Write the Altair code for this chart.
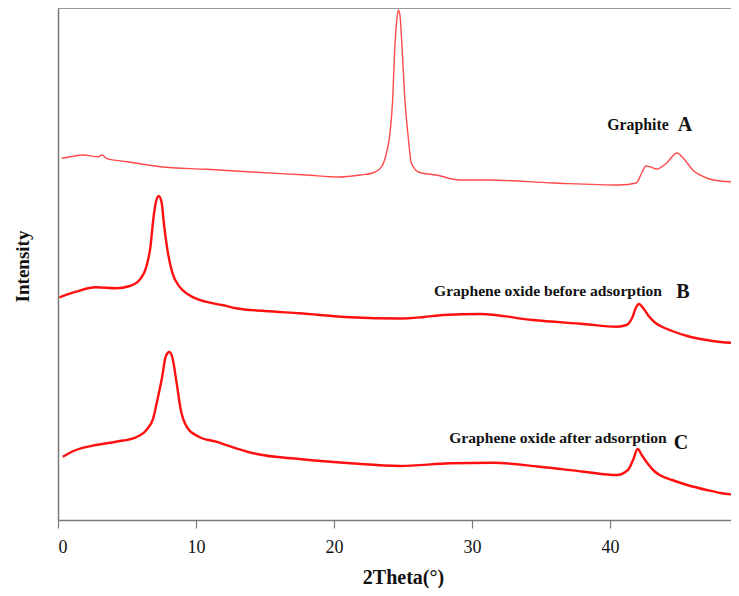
import altair as alt
import pandas as pd

# --- data (2Theta in degrees, intensity in arbitrary units) ---
A_x = [0.27, 1.0, 1.8, 2.9, 3.2, 3.5, 5.0, 7.4, 10.8, 14.4, 18.0, 20.4, 21.9, 22.8, 23.45, 23.8,
       24.06, 24.25, 24.4, 24.55, 24.66, 24.78, 24.9, 25.14, 25.4, 25.6, 26.2, 27.4, 29.1, 31.1,
       35.9, 40.7, 41.9, 42.3, 42.6, 42.9, 43.4, 44.1, 44.85, 45.3, 46.0, 47.0, 48.0, 49.3]
A_y = [361.7, 363.5, 365, 363.3, 365, 361.7, 358.3, 353.3, 350.7, 347.7, 345, 343, 345, 347, 353.3, 367,
       387, 420, 470, 500, 510, 505, 480, 420, 380, 357, 347.5, 345, 340, 340,
       337, 335, 337, 347, 354, 353.3, 351, 357, 367, 362, 350, 342, 339, 338]

B_x = [0.1, 1.3, 2.75, 4.2, 5.2, 5.9, 6.4, 6.7, 6.9, 7.1, 7.3, 7.5, 7.7, 7.95, 8.3, 8.8, 9.5,
       10.7, 11.9, 12.9, 15.0, 17.5, 21.2, 24.8, 26.5, 27.9, 30.6, 34.4, 38.1, 40.5, 41.2, 41.6,
       41.9, 42.1, 42.4, 42.8, 43.3, 43.8, 44.5, 45.6, 47.0, 48.0, 49.3]
B_y = [222.7, 228.3, 232.7, 231.7, 234, 240, 253.3, 273.3, 300, 318.3, 324, 318.3, 293.3, 268.3, 246.7, 233.3, 225,
       218.3, 215, 211.7, 209, 206.7, 202.7, 201.5, 203, 205, 206, 200, 196, 193.3, 195, 202,
       213, 216, 212, 204, 197, 193, 189, 184, 180, 178, 177]

C_x = [0.34, 1.3, 2.75, 4.2, 5.65, 6.4, 6.9, 7.2, 7.55, 7.8, 8.07, 8.3, 8.6, 8.9, 9.4, 10.2,
       11.45, 12.9, 14.4, 17.5, 21.2, 24.8, 28.4, 31.5, 34.9, 38.1, 40.5, 41.3, 41.7, 42.0, 42.3,
       42.7, 43.2, 43.6, 44.5, 45.6, 47.0, 48.0, 49.3]
C_y = [63.3, 70, 75, 78.3, 82.7, 90, 101.7, 120, 143.3, 163.3, 168, 161.7, 136.7, 110, 91.7, 83.3,
       78.3, 71.7, 66, 61, 56.7, 54, 56.7, 57.3, 53.3, 48.3, 45, 50, 61, 71, 65,
       57, 49, 45, 40, 35, 30, 27, 25]

x_ticks = [0, 10, 20, 30, 40]
labels = ["Graphite", "Graphene oxide before adsorption", "Graphene oxide after adsorption"]
letters = ["A", "B", "C"]

df = pd.concat([
    pd.DataFrame({"theta": A_x, "intensity": A_y, "series": "A"}),
    pd.DataFrame({"theta": B_x, "intensity": B_y, "series": "B"}),
    pd.DataFrame({"theta": C_x, "intensity": C_y, "series": "C"}),
], ignore_index=True)

W, H = 673, 512
SERIF = "Liberation Serif"
GRAY = "#7a7a7a"

xs = alt.Scale(domain=[0, W / 13.8], nice=False, zero=False)
ys = alt.Scale(domain=[0, H], nice=False, zero=False)

xaxis = alt.Axis(values=x_ticks, grid=False, domainColor=GRAY, domainWidth=1.5,
                 tickColor=GRAY, tickWidth=1.2, tickSize=8, labelFont=SERIF, labelFontSize=18,
                 labelColor="#111", labelPadding=10, title="2Theta(°)", titleFont=SERIF,
                 titleFontSize=20, titleFontWeight="bold", titleColor="#111",
                 titleX=345, titleY=57, titleBaseline="middle", titleAlign="center")
yaxis = alt.Axis(grid=False, labels=False, ticks=False, domainColor=GRAY, domainWidth=1.5,
                 title="Intensity", titleFont=SERIF, titleFontSize=19, titleFontWeight="bold",
                 titleColor="#111", titleAngle=270, titleX=-36, titleY=258,
                 titleAlign="center", titleBaseline="middle")

base = alt.Chart(df)

line_a = base.transform_filter(alt.datum.series == "A").mark_line(
    color="#ff4a4a", strokeWidth=1.4, interpolate="monotone").encode(
    x=alt.X("theta:Q", scale=xs, axis=xaxis),
    y=alt.Y("intensity:Q", scale=ys, axis=yaxis),
)
line_b = base.transform_filter(alt.datum.series == "B").mark_line(
    color="#ff0f0f", strokeWidth=2.4, interpolate="monotone").encode(
    x=alt.X("theta:Q", scale=xs), y=alt.Y("intensity:Q", scale=ys))
line_c = base.transform_filter(alt.datum.series == "C").mark_line(
    color="#ff0f0f", strokeWidth=2.4, interpolate="monotone").encode(
    x=alt.X("theta:Q", scale=xs), y=alt.Y("intensity:Q", scale=ys))

dummy = alt.Chart(pd.DataFrame({"a": [0]}))
top_rule = dummy.mark_rule(color=GRAY, strokeWidth=1.5).encode(
    x=alt.value(0), x2=alt.value(W + 20), y=alt.value(0))


def txt(s, px, py, size):
    return dummy.mark_text(text=s, font=SERIF, fontSize=size, fontWeight="bold", color="#111",
                           align="center", baseline="middle").encode(x=alt.value(px), y=alt.value(py))


texts = [
    txt(labels[0], 580, 117, 15.8), txt(letters[0], 627, 117, 20),
    txt(labels[1], 490, 283, 15.6), txt(letters[1], 625, 284, 20),
    txt(labels[2], 500, 430, 15.6), txt(letters[2], 623, 435, 20),
]

chart = alt.layer(line_a, line_b, line_c, top_rule, *texts).properties(
    width=W, height=H,
    autosize=alt.AutoSizeParams(type="none"),
    padding={"left": 50, "top": 0, "right": 0, "bottom": 68},
    background="white",
).configure_view(stroke=None)

chart.save("out.html", embed_options={"renderer": "svg", "actions": False})
